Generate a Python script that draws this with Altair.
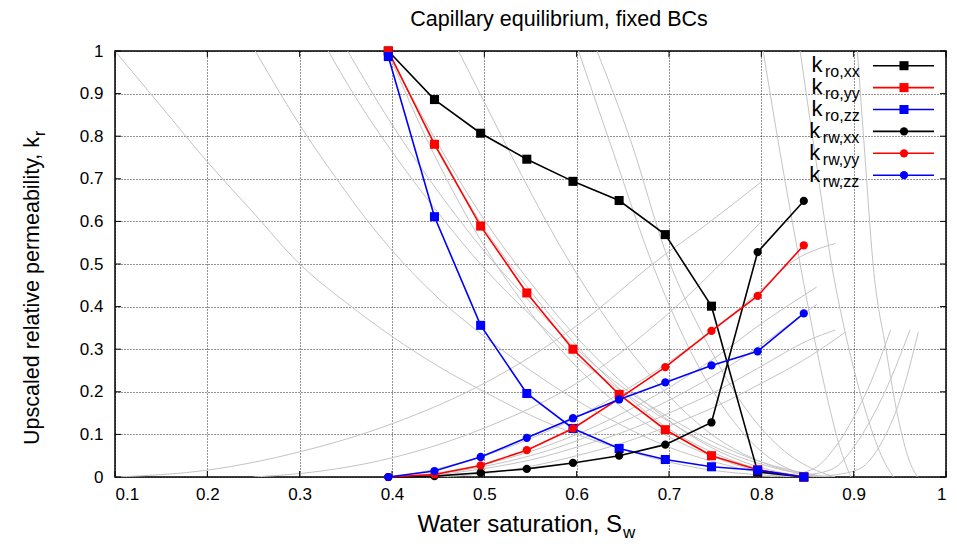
import altair as alt
import pandas as pd

# ---------------- data ----------------
sw = [0.396, 0.446, 0.496, 0.546, 0.596, 0.646, 0.696, 0.746, 0.796, 0.846]
kro_xx = [1.0, 0.886, 0.807, 0.746, 0.694, 0.649, 0.569, 0.401, 0.012, 0.0]
kro_yy = [1.0, 0.781, 0.589, 0.432, 0.300, 0.194, 0.111, 0.050, 0.017, 0.0]
kro_zz = [0.987, 0.611, 0.356, 0.196, 0.114, 0.067, 0.041, 0.024, 0.016, 0.0]
krw_xx = [0.0, 0.002, 0.010, 0.019, 0.033, 0.050, 0.076, 0.128, 0.528, 0.648]
krw_yy = [0.0, 0.006, 0.027, 0.063, 0.114, 0.184, 0.258, 0.343, 0.425, 0.544]
krw_zz = [0.0, 0.014, 0.047, 0.092, 0.138, 0.182, 0.222, 0.262, 0.295, 0.384]

series_names = ["ro,xx", "ro,yy", "ro,zz", "rw,xx", "rw,yy", "rw,zz"]
series_vals = [kro_xx, kro_yy, kro_zz, krw_xx, krw_yy, krw_zz]
series_colors = ["#000000", "#ff0000", "#0000ff", "#000000", "#ff0000", "#0000ff"]
series_shapes = ["square", "square", "square", "circle", "circle", "circle"]

# fine-scale (rock-type) curves drawn in grey: (Sw, kr) pairs
grey_curves = [
    # oil curves
    [(0.10, 1.0), (0.15, 0.87), (0.20, 0.74), (0.25, 0.62), (0.30, 0.50), (0.35, 0.41), (0.40, 0.33),
     (0.45, 0.26), (0.50, 0.20), (0.55, 0.145), (0.60, 0.10), (0.65, 0.065), (0.70, 0.035),
     (0.75, 0.015), (0.80, 0.005), (0.84, 0.0)],
    [(0.252, 1.0), (0.279, 0.90), (0.308, 0.80), (0.340, 0.70), (0.374, 0.60), (0.398, 0.537),
     (0.45, 0.42), (0.50, 0.33), (0.55, 0.25), (0.60, 0.18), (0.65, 0.12), (0.70, 0.07),
     (0.75, 0.035), (0.80, 0.01), (0.85, 0.0)],
    [(0.331, 1.0), (0.358, 0.90), (0.398, 0.77), (0.45, 0.62), (0.50, 0.49), (0.55, 0.38),
     (0.60, 0.28), (0.65, 0.20), (0.70, 0.13), (0.75, 0.07), (0.80, 0.03), (0.85, 0.005), (0.87, 0.0)],
    [(0.352, 1.0), (0.398, 0.834), (0.45, 0.67), (0.50, 0.53), (0.55, 0.41), (0.60, 0.30),
     (0.65, 0.21), (0.70, 0.14), (0.75, 0.08), (0.80, 0.035), (0.85, 0.008), (0.87, 0.0)],
    [(0.395, 1.0), (0.445, 0.79), (0.495, 0.60), (0.545, 0.45), (0.595, 0.32), (0.645, 0.21),
     (0.695, 0.12), (0.745, 0.06), (0.795, 0.02), (0.845, 0.0)],
    [(0.395, 1.0), (0.445, 0.80), (0.495, 0.62), (0.545, 0.47), (0.595, 0.34), (0.645, 0.23),
     (0.695, 0.14), (0.745, 0.07), (0.795, 0.025), (0.85, 0.0)],
    [(0.395, 1.0), (0.445, 0.76), (0.495, 0.56), (0.545, 0.40), (0.595, 0.27), (0.645, 0.17),
     (0.695, 0.10), (0.745, 0.05), (0.795, 0.015), (0.845, 0.0)],
    [(0.472, 1.0), (0.50, 0.88), (0.54, 0.71), (0.58, 0.55), (0.62, 0.41), (0.66, 0.29),
     (0.70, 0.19), (0.74, 0.11), (0.78, 0.055), (0.82, 0.02), (0.86, 0.003), (0.88, 0.0)],
    [(0.602, 1.0), (0.64, 0.76), (0.682, 0.50), (0.72, 0.31), (0.76, 0.16), (0.80, 0.06),
     (0.84, 0.01), (0.86, 0.0)],
    [(0.622, 1.0), (0.66, 0.78), (0.696, 0.53), (0.74, 0.32), (0.78, 0.17), (0.82, 0.07),
     (0.86, 0.015), (0.88, 0.0)],
    [(0.802, 1.0), (0.822, 0.74), (0.842, 0.50), (0.857, 0.33), (0.872, 0.18), (0.885, 0.07),
     (0.897, 0.0)],
    [(0.842, 1.0), (0.858, 0.76), (0.876, 0.50), (0.895, 0.30), (0.915, 0.14), (0.93, 0.05),
     (0.943, 0.0)],
    [(0.904, 1.0), (0.912, 0.76), (0.921, 0.50), (0.935, 0.30), (0.948, 0.14), (0.96, 0.04),
     (0.969, 0.0)],
    # water curves
    [(0.10, 0.0), (0.20, 0.016), (0.30, 0.059), (0.40, 0.125), (0.50, 0.22), (0.60, 0.355),
     (0.69, 0.513), (0.745, 0.60), (0.80, 0.693)],
    [(0.25, 0.0), (0.30, 0.008), (0.40, 0.045), (0.50, 0.115), (0.60, 0.22), (0.70, 0.385),
     (0.80, 0.60)],
    [(0.40, 0.0), (0.45, 0.02), (0.50, 0.05), (0.55, 0.09), (0.60, 0.14), (0.65, 0.20),
     (0.70, 0.27), (0.75, 0.35), (0.80, 0.44), (0.83, 0.50), (0.88, 0.548)],
    [(0.395, 0.0), (0.45, 0.01), (0.50, 0.03), (0.55, 0.06), (0.60, 0.10), (0.65, 0.15),
     (0.70, 0.21), (0.75, 0.28), (0.80, 0.36), (0.86, 0.446)],
    [(0.395, 0.0), (0.45, 0.008), (0.50, 0.025), (0.55, 0.05), (0.60, 0.085), (0.65, 0.13),
     (0.70, 0.18), (0.75, 0.24), (0.80, 0.31), (0.85, 0.39), (0.86, 0.405)],
    [(0.395, 0.0), (0.45, 0.006), (0.50, 0.02), (0.55, 0.04), (0.60, 0.07), (0.65, 0.105),
     (0.70, 0.15), (0.75, 0.20), (0.80, 0.26), (0.85, 0.32), (0.88, 0.345)],
    [(0.45, 0.0), (0.50, 0.008), (0.55, 0.025), (0.60, 0.05), (0.65, 0.08), (0.70, 0.12),
     (0.75, 0.165), (0.80, 0.22), (0.85, 0.28), (0.891, 0.34)],
    [(0.80, 0.0), (0.83, 0.005), (0.857, 0.02), (0.88, 0.07), (0.90, 0.14), (0.92, 0.23),
     (0.94, 0.345)],
    [(0.82, 0.0), (0.85, 0.005), (0.878, 0.02), (0.90, 0.07), (0.92, 0.14), (0.94, 0.23),
     (0.961, 0.345)],
    [(0.85, 0.0), (0.88, 0.005), (0.907, 0.02), (0.93, 0.08), (0.95, 0.18), (0.97, 0.34)],
]

x_ticks = [round(0.1 * i, 1) for i in range(1, 11)]
y_ticks = [round(0.1 * i, 1) for i in range(0, 11)]

title_text = "Capillary equilibrium, fixed BCs"
x_title_main, x_title_sub = "Water saturation, S", "w"
y_title_main, y_title_sub = "Upscaled relative permeability, k", "r"

# ---------------- layout ----------------
W, H = 831, 426
FONT = "Liberation Sans"
xs = alt.Scale(domain=[0.1, 1.0], nice=False, zero=False)
ys = alt.Scale(domain=[0.0, 1.0], nice=False, zero=False)

grey_rows = []
for ci, pts in enumerate(grey_curves):
    for k, (gx, gy) in enumerate(pts):
        grey_rows.append({"c": ci, "i": k, "x": gx, "y": gy})
grey_df = pd.DataFrame(grey_rows)

base_axes = alt.Chart(pd.DataFrame({"x": [0.1], "y": [0.0]})).mark_point(opacity=0).encode(
    x=alt.X("x:Q", scale=xs, axis=alt.Axis(values=x_ticks, format=".1~f", title=None,
                                           labelPadding=9)),
    y=alt.Y("y:Q", scale=ys, axis=alt.Axis(values=y_ticks, format=".1~f", title=None,
                                           labelPadding=12)),
)

grey = alt.Chart(grey_df).mark_line(color="#c4c4c4", strokeWidth=1, clip=True,
                                    interpolate="monotone").encode(
    x=alt.X("x:Q", scale=xs), y=alt.Y("y:Q", scale=ys),
    detail="c:N", order="i:Q")

tx = pd.DataFrame({"x": x_ticks})
ty = pd.DataFrame({"y": y_ticks})
tick_layers = [
    alt.Chart(tx).mark_rule(color="black", strokeWidth=1).encode(
        x=alt.X("x:Q", scale=xs), y=alt.value(H), y2=alt.value(H - 6)),
    alt.Chart(tx).mark_rule(color="black", strokeWidth=1).encode(
        x=alt.X("x:Q", scale=xs), y=alt.value(0), y2=alt.value(6)),
    alt.Chart(ty).mark_rule(color="black", strokeWidth=1).encode(
        y=alt.Y("y:Q", scale=ys), x=alt.value(0), x2=alt.value(6)),
    alt.Chart(ty).mark_rule(color="black", strokeWidth=1).encode(
        y=alt.Y("y:Q", scale=ys), x=alt.value(W), x2=alt.value(W - 6)),
]

data_layers = []
for name, vals, col, shp in zip(series_names, series_vals, series_colors, series_shapes):
    df = pd.DataFrame({"x": sw, "y": vals})
    data_layers.append(alt.Chart(df).mark_line(color=col, strokeWidth=1.6).encode(
        x=alt.X("x:Q", scale=xs), y=alt.Y("y:Q", scale=ys)))
    size = 82 if shp == "square" else 68
    data_layers.append(alt.Chart(df).mark_point(shape=shp, filled=True, color=col, size=size,
                                                opacity=1).encode(
        x=alt.X("x:Q", scale=xs), y=alt.Y("y:Q", scale=ys)))

one = pd.DataFrame({"a": [0]})
legend_layers = []
for i, (name, col, shp) in enumerate(zip(series_names, series_colors, series_shapes)):
    ly = 14.7 + 21.9 * i
    kx = 696.5 if i < 3 else 694.3
    legend_layers.append(alt.Chart(one).mark_rule(color=col, strokeWidth=1.6).encode(
        x=alt.value(758), x2=alt.value(819), y=alt.value(ly)))
    size = 82 if shp == "square" else 68
    legend_layers.append(alt.Chart(one).mark_point(shape=shp, filled=True, color=col, size=size,
                                                   opacity=1).encode(
        x=alt.value(789), y=alt.value(ly)))
    legend_layers.append(alt.Chart(one).mark_text(font=FONT, fontSize=22, align="left",
                                                  baseline="alphabetic", color="black").encode(
        x=alt.value(kx), y=alt.value(ly + 6.5), text=alt.value("k")))
    legend_layers.append(alt.Chart(one).mark_text(font=FONT, fontSize=16, align="left",
                                                  baseline="alphabetic", color="black").encode(
        x=alt.value(kx + 13.5), y=alt.value(ly + 11.5), text=alt.value(name)))

text_layers = [
    alt.Chart(one).mark_text(font=FONT, fontSize=21.5, align="center", baseline="alphabetic",
                             color="black").encode(
        x=alt.value(444), y=alt.value(-25), text=alt.value(title_text)),
    alt.Chart(one).mark_text(font=FONT, fontSize=24, align="right", baseline="alphabetic",
                             color="black").encode(
        x=alt.value(507), y=alt.value(481), text=alt.value(x_title_main)),
    alt.Chart(one).mark_text(font=FONT, fontSize=17, align="left", baseline="alphabetic",
                             color="black").encode(
        x=alt.value(508), y=alt.value(487), text=alt.value(x_title_sub)),
    alt.Chart(one).mark_text(font=FONT, fontSize=21.5, align="right", baseline="alphabetic",
                             color="black", angle=270).encode(
        x=alt.value(-76), y=alt.value(86), text=alt.value(y_title_main)),
    alt.Chart(one).mark_text(font=FONT, fontSize=16, align="left", baseline="alphabetic",
                             color="black", angle=270).encode(
        x=alt.value(-70), y=alt.value(85), text=alt.value(y_title_sub)),
]

chart = alt.layer(base_axes, grey, *tick_layers, *data_layers, *legend_layers, *text_layers).properties(
    width=W, height=H,
    autosize=alt.AutoSizeParams(type="none"),
    padding={"left": 115, "top": 51, "right": 11, "bottom": 75},
    background="white",
).configure_view(
    stroke="black", strokeWidth=1.5
).configure_axis(
    labelFont=FONT, labelFontSize=17, labelColor="black",
    ticks=False, domain=False,
    grid=True, gridColor="black", gridDash=[1, 2], gridOpacity=0.85, gridWidth=1,
)

chart.save("out.html", embed_options={"renderer": "svg", "actions": False})
